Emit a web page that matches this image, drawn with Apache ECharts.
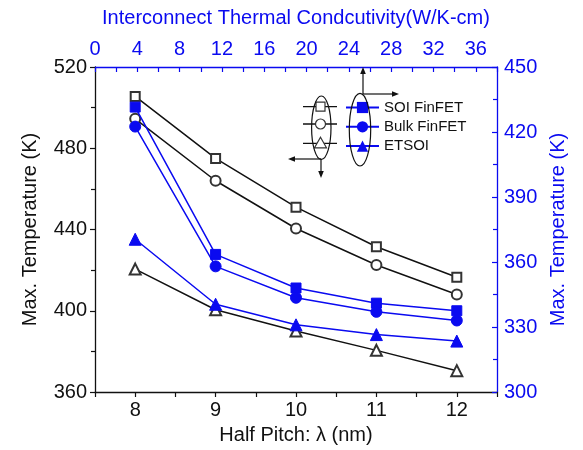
<!DOCTYPE html>
<html>
<head>
<meta charset="utf-8">
<script src="https://cdn.jsdelivr.net/npm/echarts@6/dist/echarts.min.js"></script>
<style>html,body{margin:0;padding:0;background:#fff}#c{width:583px;height:450px}</style>
</head>
<body>
<div id="c"></div>
<script>
const halfPitch = [8, 9, 10, 11, 12];
const seriesNames = ['SOI FinFET', 'Bulk FinFET', 'ETSOI'];
// left axis (black, open markers)
const soiLeft   = [505.5, 475, 451, 431.5, 416.5];
const bulkLeft  = [494.5, 464, 440.5, 422.5, 408];
const etsoiLeft = [420.5, 400.5, 390, 380.5, 370.5];
// right axis (blue, filled markers)
const soiRight   = [431.5, 363.5, 348, 341, 337.5];
const bulkRight  = [422.5, 358, 343.5, 337, 333];
const etsoiRight = [370.5, 340.5, 331, 326.5, 323.5];

const FONT = 'Liberation Sans, Arial, sans-serif';
const BLUE = '#0a0af0';
const BLACK = '#111';

const pairs = a => halfPitch.map((x, i) => [x, a[i]]);

const chart = echarts.init(document.getElementById('c'), null, {renderer: 'canvas'});

const openSym = ['emptyRect', 'emptyCircle', 'emptyTriangle'];
const openSize = [9, 10, 11];
const fillSym = ['rect', 'circle', 'triangle'];
const fillSize = [10, 11, 12];
const leftData = [soiLeft, bulkLeft, etsoiLeft];
const rightData = [soiRight, bulkRight, etsoiRight];

const series = [];
leftData.forEach((d, i) => series.push({
  name: seriesNames[i] + ' (left)', type: 'line', xAxisIndex: 0, yAxisIndex: 0,
  data: pairs(d), symbol: openSym[i], symbolSize: openSize[i],
  lineStyle: {color: BLACK, width: 1.5},
  itemStyle: {color: '#333', borderWidth: 1.2},
  z: 2
}));
rightData.forEach((d, i) => series.push({
  name: seriesNames[i], type: 'line', xAxisIndex: 0, yAxisIndex: 1,
  data: pairs(d), symbol: fillSym[i], symbolSize: fillSize[i],
  lineStyle: {color: BLUE, width: 1.5},
  itemStyle: {color: BLUE, borderColor: BLUE},
  z: 3
}));

// legend decoration (open markers, ellipses, arrows)
const graphics = [];
const legY = [106.7, 124, 143.3];
legY.forEach((y, i) => {
  graphics.push({type: 'line', shape: {x1: 303, y1: y, x2: 337, y2: y}, style: {stroke: BLACK, lineWidth: 1.3}, z: 10});
});
graphics.push({type: 'rect', shape: {x: 316, y: legY[0] - 4.5, width: 9, height: 9}, style: {fill: '#fff', stroke: '#333', lineWidth: 1.2}, z: 11});
graphics.push({type: 'circle', shape: {cx: 320.5, cy: legY[1], r: 5}, style: {fill: '#fff', stroke: '#333', lineWidth: 1.2}, z: 11});
graphics.push({type: 'polygon', shape: {points: [[320.5, legY[2] - 6], [326.5, legY[2] + 4.5], [314.5, legY[2] + 4.5]]}, style: {fill: '#fff', stroke: '#333', lineWidth: 1.2}, z: 11});
graphics.push({type: 'ellipse', shape: {cx: 321.3, cy: 127.7, rx: 9.7, ry: 31.7}, style: {fill: 'none', stroke: BLACK, lineWidth: 1.2}, z: 12});
graphics.push({type: 'ellipse', shape: {cx: 360, cy: 129.7, rx: 10.7, ry: 36.3}, style: {fill: 'none', stroke: BLACK, lineWidth: 1.2}, z: 12});
function arrow(x1, y1, x2, y2) {
  const ang = Math.atan2(y2 - y1, x2 - x1), L = 7, W = 2.8;
  const bx = x2 - L * Math.cos(ang), by = y2 - L * Math.sin(ang);
  const nx = -Math.sin(ang), ny = Math.cos(ang);
  graphics.push({type: 'line', shape: {x1, y1, x2: bx, y2: by}, style: {stroke: BLACK, lineWidth: 1.2}, z: 12});
  graphics.push({type: 'polygon', shape: {points: [[x2, y2], [bx + nx * W, by + ny * W], [bx - nx * W, by - ny * W]]}, style: {fill: BLACK}, z: 12});
}
arrow(321, 159, 288, 159);
arrow(321, 159, 321, 178);
arrow(363, 94, 363, 67);
arrow(363, 94, 399, 94);

const option = {
  animation: false,
  backgroundColor: '#fff',
  textStyle: {fontFamily: FONT},
  grid: {left: 95, right: 86, top: 67, bottom: 56, containLabel: false},
  legend: {
    data: seriesNames, orient: 'vertical', left: 345, top: 100, padding: 0,
    itemWidth: 33, itemHeight: 14, itemGap: 4.3,
    textStyle: {fontFamily: FONT, fontSize: 15, color: BLACK, padding: [0, 0, 0, 0]}
  },
  xAxis: [
    {
      type: 'value', position: 'bottom', min: 7.5, max: 12.5, interval: 0.5,
      name: 'Half Pitch: λ (nm)', nameLocation: 'middle', nameGap: 33,
      nameTextStyle: {fontFamily: FONT, fontSize: 20, color: BLACK},
      axisLine: {show: true, onZero: false, lineStyle: {color: BLACK, width: 1.3}},
      axisTick: {show: true, inside: false, length: 5, lineStyle: {color: BLACK, width: 1.2}},
      axisLabel: {fontFamily: FONT, fontSize: 20, color: BLACK, margin: 8,
        formatter: v => (Math.abs(v - Math.round(v)) < 1e-6 ? String(Math.round(v)) : '')},
      splitLine: {show: false}
    },
    {
      type: 'value', position: 'top', min: 0, max: 38, interval: 2,
      name: 'Interconnect Thermal Condcutivity(W/K-cm)', nameLocation: 'middle', nameGap: 39,
      nameTextStyle: {fontFamily: FONT, fontSize: 20, color: BLUE},
      axisLine: {show: true, onZero: false, lineStyle: {color: BLUE, width: 1.3}},
      axisTick: {show: true, inside: true, length: 5, lineStyle: {color: BLUE, width: 1.2}},
      axisLabel: {fontFamily: FONT, fontSize: 20, color: BLUE, margin: 8,
        formatter: v => (v % 4 === 0 && v <= 36 ? String(v) : '')},
      splitLine: {show: false}
    }
  ],
  yAxis: [
    {
      type: 'value', position: 'left', min: 360, max: 520, interval: 40,
      name: 'Max. Temperature (K)', nameLocation: 'middle', nameGap: 55,
      nameTextStyle: {fontFamily: FONT, fontSize: 20, color: BLACK},
      axisLine: {show: true, onZero: false, lineStyle: {color: BLACK, width: 1.3}},
      axisTick: {show: true, inside: false, length: 5, lineStyle: {color: BLACK, width: 1.2}},
      minorTick: {show: true, splitNumber: 2, length: 4, lineStyle: {color: BLACK, width: 1.2}},
      axisLabel: {fontFamily: FONT, fontSize: 20, color: BLACK, margin: 8},
      splitLine: {show: false}
    },
    {
      type: 'value', position: 'right', min: 300, max: 450, interval: 30,
      name: 'Max. Temperature (K)', nameLocation: 'middle', nameGap: 50,
      nameTextStyle: {fontFamily: FONT, fontSize: 20, color: BLUE},
      axisLine: {show: true, onZero: false, lineStyle: {color: BLUE, width: 1.3}},
      axisTick: {show: true, inside: true, length: 5, lineStyle: {color: BLUE, width: 1.2}},
      minorTick: {show: true, splitNumber: 2, length: 4, lineStyle: {color: BLUE, width: 1.2}},
      axisLabel: {fontFamily: FONT, fontSize: 20, color: BLUE, margin: 7},
      splitLine: {show: false}
    }
  ],
  series: series,
  graphic: graphics
};
chart.setOption(option);
</script>
</body>
</html>
